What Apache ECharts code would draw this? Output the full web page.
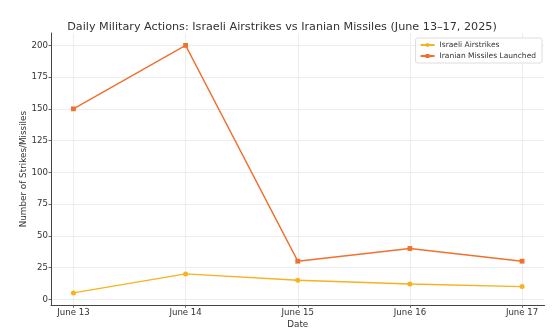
<!DOCTYPE html>
<html>
<head>
<meta charset="utf-8">
<style>
  html, body { margin: 0; padding: 0; background: #fff; }
  #chart { width: 560px; height: 329px; }
</style>
<script src="https://cdn.jsdelivr.net/npm/echarts@6/dist/echarts.min.js"></script>
</head>
<body>
<div id="chart"></div>
<script>
// Dates on the x axis
const dates = ['June 13', 'June 14', 'June 15', 'June 16', 'June 17'];
// Daily counts
const israeliAirstrikes = [5, 20, 15, 12, 10];
const iranianMissiles = [150, 200, 30, 40, 30];
// Tick values on the count axis
const yTicks = [0, 25, 50, 75, 100, 125, 150, 175, 200];

const FONT = 'DejaVu Sans';
const TEXT = '#333333';
const xIdx = dates.map((_, i) => i);

const chart = echarts.init(document.getElementById('chart'), null, { renderer: 'canvas' });

chart.setOption({
  animation: false,
  textStyle: { fontFamily: FONT },
  title: {
    text: 'Daily Military Actions: Israeli Airstrikes vs Iranian Missiles (June 13\u201317, 2025)',
    left: 277, top: 17, textAlign: 'center',
    textStyle: { fontFamily: FONT, fontSize: 11.2, fontWeight: 'normal', color: TEXT }
  },
  legend: {
    orient: 'vertical', right: 18, top: 38,
    padding: [3, 6, 3, 4], itemGap: 3,
    itemWidth: 14, itemHeight: 5,
    borderColor: '#dddddd', borderWidth: 1, borderRadius: 2,
    backgroundColor: '#ffffff',
    textStyle: { fontFamily: FONT, fontSize: 7.5, color: TEXT, padding: [0, 0, 0, 0] },
    data: ['Israeli Airstrikes', 'Iranian Missiles Launched']
  },
  grid: {
    left: 51, right: 15.5, top: 33, bottom: 23.7,
    containLabel: false, outerBoundsMode: 'none'
  },
  xAxis: {
    type: 'value', min: -0.2, max: 4.2,
    name: 'Date', nameLocation: 'middle', nameGap: 15, nameMoveOverlap: false,
    nameTextStyle: { fontFamily: FONT, fontSize: 8.8, color: TEXT },
    axisLine: { show: true, onZero: false, lineStyle: { color: '#444444', width: 1 } },
    axisTick: { show: true, length: 2.5, customValues: xIdx, lineStyle: { color: '#666666' } },
    axisLabel: {
      customValues: xIdx, margin: 3,
      fontFamily: FONT, fontSize: 8.6, color: TEXT,
      formatter: v => dates[Math.round(v)]
    },
    splitLine: { show: true, lineStyle: { color: '#e8e8e8', width: 0.8 } }
  },
  yAxis: {
    type: 'value', min: -4.75, max: 209.75,
    name: 'Number of Strikes/Missiles', nameLocation: 'middle', nameGap: 23, nameMoveOverlap: false,
    nameTextStyle: { fontFamily: FONT, fontSize: 8.8, color: TEXT },
    axisLine: { show: true, onZero: false, lineStyle: { color: '#444444', width: 1 } },
    axisTick: { show: true, length: 2.5, customValues: yTicks, lineStyle: { color: '#666666' } },
    axisLabel: { customValues: yTicks, margin: 3, fontFamily: FONT, fontSize: 8.6, color: TEXT },
    splitLine: { show: true, lineStyle: { color: '#e8e8e8', width: 0.8 } }
  },
  series: [
    {
      name: 'Israeli Airstrikes', type: 'line',
      data: israeliAirstrikes.map((v, i) => [i, v]),
      symbol: 'circle', symbolSize: 5,
      lineStyle: { color: '#f7b21f', width: 1.4 },
      itemStyle: { color: '#f7b21f' },
      z: 3
    },
    {
      name: 'Iranian Missiles Launched', type: 'line',
      data: iranianMissiles.map((v, i) => [i, v]),
      symbol: 'rect', symbolSize: 4.8,
      lineStyle: { color: '#f0702f', width: 1.4 },
      itemStyle: { color: '#f0702f' },
      z: 3
    }
  ]
});
</script>
</body>
</html>
